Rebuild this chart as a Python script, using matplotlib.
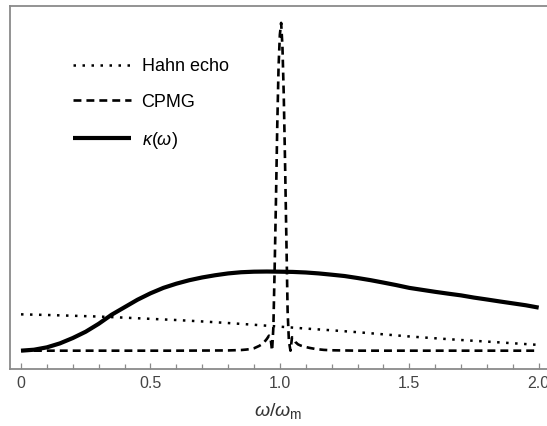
import matplotlib
matplotlib.use("Agg")
import matplotlib.pyplot as plt
from matplotlib.ticker import MultipleLocator, FixedLocator, FixedFormatter

plt.rcParams['font.family'] = ['Liberation Sans', 'DejaVu Sans']
plt.rcParams['mathtext.fontset'] = 'custom'
plt.rcParams['mathtext.rm'] = 'Liberation Sans'
plt.rcParams['mathtext.it'] = 'Liberation Sans:italic'
plt.rcParams['mathtext.bf'] = 'Liberation Sans:bold'

# Noise spectrum kappa(omega), normalised to its maximum
kappa_freq = [0.00, 0.05, 0.10, 0.15, 0.20, 0.25, 0.30, 0.35, 0.40, 0.45,
              0.50, 0.55, 0.60, 0.65, 0.70, 0.75, 0.80, 0.85, 0.90, 0.95,
              1.00, 1.05, 1.10, 1.15, 1.20, 1.25, 1.30, 1.35, 1.40, 1.45,
              1.50, 1.55, 1.60, 1.65, 1.70, 1.75, 1.80, 1.85, 1.90, 1.95, 2.00]
kappa_value = [0.000, 0.012, 0.042, 0.092, 0.160, 0.240, 0.340, 0.455, 0.550, 0.645,
               0.726, 0.795, 0.848, 0.892, 0.927, 0.955, 0.978, 0.993, 1.000, 1.002,
               1.000, 0.997, 0.990, 0.978, 0.962, 0.945, 0.920, 0.893, 0.862, 0.830,
               0.795, 0.770, 0.745, 0.722, 0.700, 0.672, 0.648, 0.623, 0.599, 0.575, 0.545]

# Hahn echo filter function
hahn_freq = [0.0, 0.1, 0.2, 0.3, 0.4, 0.5, 0.6, 0.7, 0.8, 0.9, 1.0,
             1.1, 1.2, 1.3, 1.4, 1.5, 1.6, 1.7, 1.8, 1.9, 2.0]
hahn_value = [0.460, 0.452, 0.442, 0.432, 0.418, 0.403, 0.388, 0.370, 0.350, 0.328, 0.304,
              0.280, 0.258, 0.234, 0.207, 0.180, 0.157, 0.135, 0.115, 0.094, 0.073]

# CPMG filter function (narrow peak at the modulation frequency)
cpmg_freq = [0.00, 0.20, 0.40, 0.60, 0.80, 0.85, 0.87, 0.89, 0.90, 0.91,
             0.92, 0.93, 0.94, 0.95, 0.958, 0.964, 0.970, 0.975, 0.980, 0.985,
             0.990, 0.995, 1.000, 1.005, 1.010, 1.015, 1.020, 1.025, 1.030, 1.035,
             1.041, 1.047, 1.053, 1.060, 1.070, 1.080, 1.095, 1.115, 1.140, 1.170,
             1.200, 1.300, 1.500, 1.750, 2.000]
cpmg_value = [0.0, 0.0, 0.0, 0.0, 0.003, 0.008, 0.014, 0.022, 0.030, 0.045,
              0.060, 0.080, 0.110, 0.150, 0.190, 0.160, 0.000, 0.300, 1.060, 1.910,
              2.850, 3.590, 4.000, 4.150, 3.850, 3.250, 2.400, 1.450, 0.500, 0.120,
              0.000, 0.170, 0.150, 0.110, 0.080, 0.065, 0.050, 0.035, 0.020, 0.010,
              0.005, 0.0, 0.0, 0.0, 0.0]

tick_values = [0.0, 0.5, 1.0, 1.5, 2.0]
tick_labels = ["0", "0.5", "1.0", "1.5", "2.0"]

W, H = 547, 426
fig = plt.figure(figsize=(W / 100, H / 100), dpi=100)
ax = fig.add_axes([10 / W, (H - 369) / H, 1 - 10 / W, (369 - 5.5) / H])

ax.plot(hahn_freq, hahn_value, color='black', lw=1.8,
        linestyle=(0, (1, 2.6)), label='Hahn echo')
ax.plot(cpmg_freq, cpmg_value, color='black', lw=1.9,
        linestyle=(0, (3.0, 1.9)), label='CPMG')
ax.plot(kappa_freq, kappa_value, color='black', lw=3.0,
        label=r'$\kappa(\omega)$', solid_capstyle='butt')

ax.set_xlim((10 - 21) / 258.85, (547 - 21) / 258.85)
ax.set_ylim(-0.232, 4.37)

gray = '#8a8a8a'
for side in ['top', 'left', 'bottom']:
    ax.spines[side].set_color(gray)
    ax.spines[side].set_linewidth(1.3)
ax.spines['right'].set_visible(False)

ax.set_yticks([])
ax.xaxis.set_major_locator(FixedLocator(tick_values))
ax.xaxis.set_major_formatter(FixedFormatter(tick_labels))
ax.xaxis.set_minor_locator(MultipleLocator(0.1))
ax.tick_params(axis='x', which='both', direction='in', color=gray,
               width=0.9, labelsize=11.5, labelcolor='#444444', pad=5)
ax.tick_params(axis='x', which='major', length=4.5)
ax.tick_params(axis='x', which='minor', length=3.5)

ax.set_xlabel(r'$\omega/\omega_{\mathrm{m}}$', fontsize=14, color='#333333', labelpad=7)

ax.legend(loc='upper left', bbox_to_anchor=((73 - 10) / 537, 0.856),
          frameon=False, fontsize=13, handlelength=3.2, handletextpad=0.6,
          labelspacing=1.05, borderaxespad=0, borderpad=0)

fig.savefig('out.png', dpi=100)
